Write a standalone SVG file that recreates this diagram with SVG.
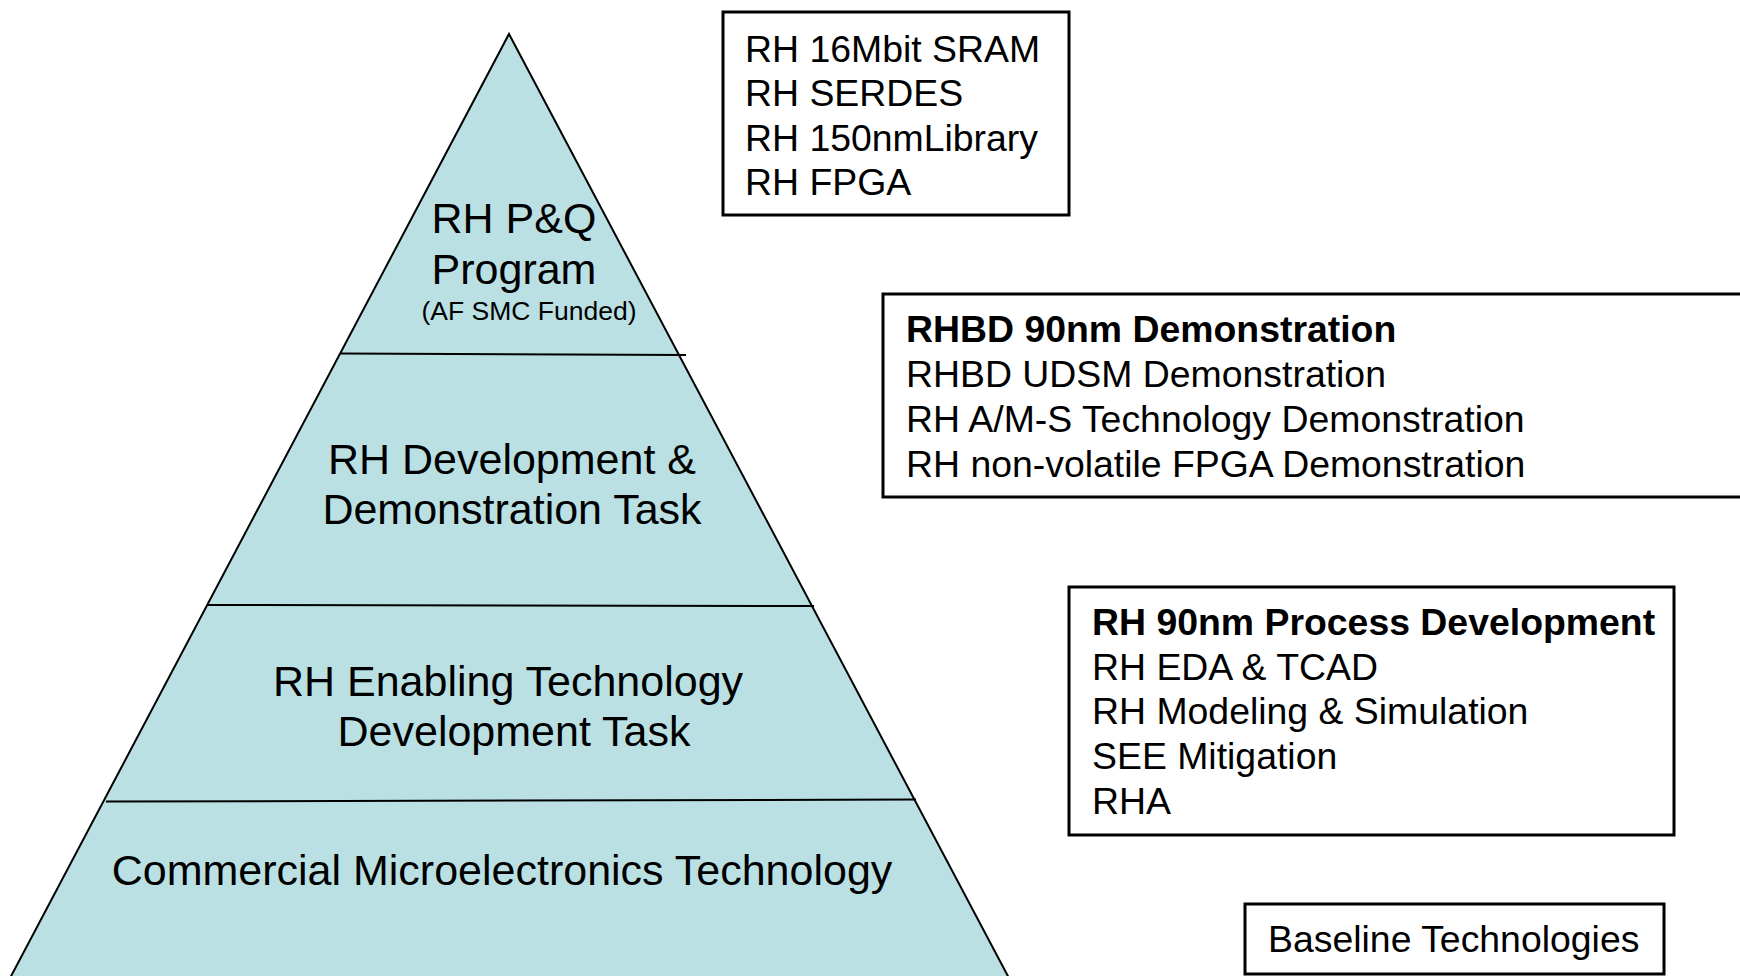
<svg xmlns="http://www.w3.org/2000/svg" width="1740" height="976" viewBox="0 0 1740 976">
<style>
.t{font-family:"Liberation Sans",Arial,sans-serif;fill:#000}
.big{font-size:43px;text-anchor:middle}
.sm{font-size:26.5px;text-anchor:middle}
.lst{font-size:37.4px}
.b{font-weight:bold}
.box{fill:#fff;stroke:#000;stroke-width:3}
.div{stroke:#000;stroke-width:2;fill:none}
</style>
<rect width="1740" height="976" fill="#fff"/>
<g id="pyramid">
<polygon points="509,34 1010,980 9,980" fill="#BAE0E4" stroke="#000" stroke-width="2"/>
<line class="div" x1="340" y1="353.5" x2="686" y2="355"/>
<line class="div" x1="207" y1="605" x2="814" y2="606"/>
<line class="div" x1="106" y1="801.5" x2="916" y2="799.5"/>
</g>
<g id="tier-pq">
<text class="t big" x="514" y="233">RH P&amp;Q</text>
<text class="t big" x="514" y="284">Program</text>
<text class="t sm" x="529" y="320">(AF SMC Funded)</text>
</g>
<g id="tier-dev-demo">
<text class="t big" x="512" y="473.5">RH Development &amp;</text>
<text class="t big" x="512" y="523.5">Demonstration Task</text>
</g>
<g id="tier-enabling">
<text class="t big" x="508" y="695.5">RH Enabling Technology</text>
<text class="t big" x="514" y="745.5">Development Task</text>
</g>
<g id="tier-commercial">
<text class="t big" x="502" y="885">Commercial Microelectronics Technology</text>
</g>
<g id="box-pq">
<rect class="box" x="723" y="12" width="346" height="203"/>
<text class="t lst" x="745" y="61.5">RH 16Mbit SRAM</text>
<text class="t lst" x="745" y="106">RH SERDES</text>
<text class="t lst" x="745" y="150.5">RH 150nmLibrary</text>
<text class="t lst" x="745" y="195">RH FPGA</text>
</g>
<g id="box-demo">
<rect class="box" x="883" y="294" width="900" height="203"/>
<text class="t lst b" x="906" y="342">RHBD 90nm Demonstration</text>
<text class="t lst" x="906" y="387">RHBD UDSM Demonstration</text>
<text class="t lst" x="906" y="432">RH A/M-S Technology Demonstration</text>
<text class="t lst" x="906" y="476.5">RH non-volatile FPGA Demonstration</text>
</g>
<g id="box-process">
<rect class="box" x="1069" y="587" width="605" height="248"/>
<text class="t lst b" x="1092" y="634.5">RH 90nm Process Development</text>
<text class="t lst" x="1092" y="679.5">RH EDA &amp; TCAD</text>
<text class="t lst" x="1092" y="724">RH Modeling &amp; Simulation</text>
<text class="t lst" x="1092" y="769">SEE Mitigation</text>
<text class="t lst" x="1092" y="813.5">RHA</text>
</g>
<g id="box-baseline">
<rect class="box" x="1245" y="904" width="419" height="70"/>
<text class="t lst" x="1268" y="952">Baseline Technologies</text>
</g>
<g id="connectors"/>
</svg>
